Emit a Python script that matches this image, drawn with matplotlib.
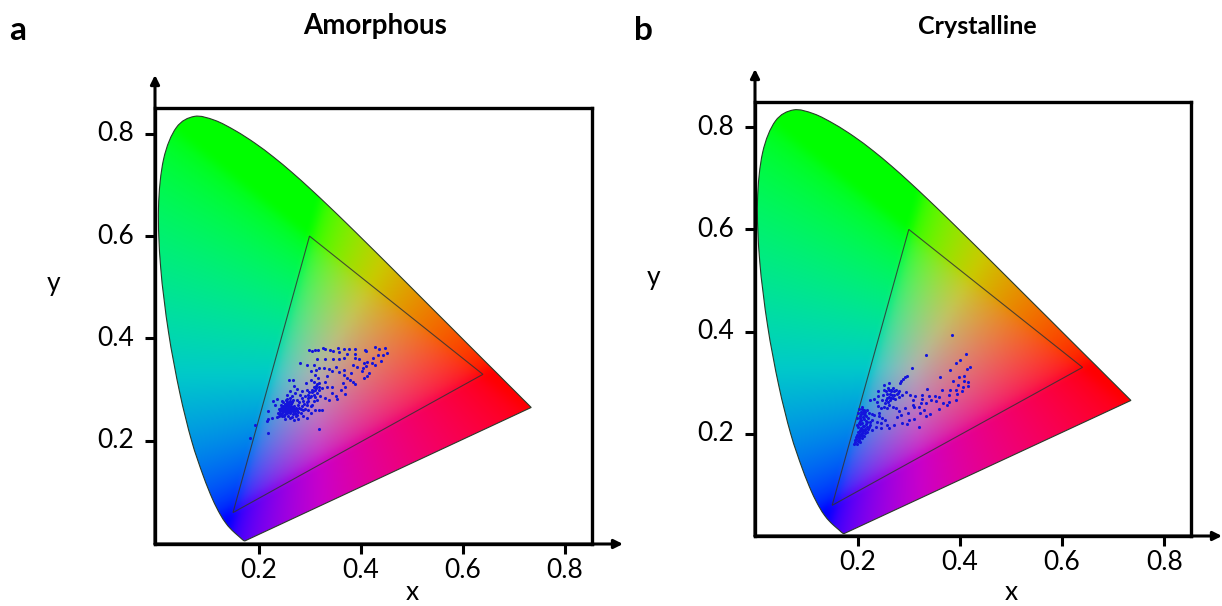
import numpy as np
import matplotlib
matplotlib.use("Agg")
import matplotlib.pyplot as plt
from matplotlib.patches import Polygon, PathPatch
from matplotlib.path import Path

plt.rcParams['font.family'] = ['Lato', 'DejaVu Sans']

# CIE 1931 spectral locus, 380-700 nm
locus_x = [.1741, .1740, .1738, .1736, .1733, .1730, .1726, .1721, .1714, .1703, .1689, .1669, .1644, .1611, .1566,
           .1510, .1440, .1355, .1241, .1096, .0913, .0687, .0454, .0235, .0082, .0039, .0139, .0389, .0743, .1142,
           .1547, .1929, .2296, .2658, .3016, .3373, .3731, .4087, .4441, .4788, .5125, .5448, .5752, .6029, .6270,
           .6482, .6658, .6801, .6915, .7006, .7079, .7140, .7190, .7230, .7260, .7283, .7300, .7347]
locus_y = [.0050, .0050, .0049, .0049, .0048, .0048, .0048, .0048, .0051, .0058, .0069, .0086, .0109, .0138, .0177,
           .0227, .0297, .0399, .0578, .0868, .1327, .2007, .2950, .4127, .5384, .6548, .7502, .8120, .8338, .8262,
           .8059, .7816, .7543, .7243, .6923, .6589, .6245, .5896, .5547, .5202, .4866, .4544, .4242, .3965, .3725,
           .3514, .3340, .3197, .3083, .2993, .2920, .2859, .2809, .2770, .2740, .2717, .2700, .2653]

gamut_x = [0.64, 0.30, 0.15]
gamut_y = [0.33, 0.60, 0.06]

tick_values = [0.2, 0.4, 0.6, 0.8]
tick_labels = ['0.2', '0.4', '0.6', '0.8']

amorphous = [
    (.299, .378), (.305, .375), (.311, .377), (.317, .378), (.326, .382), (.331, .380), (.340, .378), (.347, .375),
    (.356, .382), (.357, .373), (.367, .380), (.377, .380), (.374, .370), (.389, .380), (.390, .370), (.408, .378),
    (.410, .376), (.428, .383), (.436, .380), (.448, .382), (.451, .372), (.435, .368), (.444, .368), (.441, .357),
    (.425, .362), (.423, .352), (.429, .349), (.413, .355), (.406, .352), (.398, .359), (.389, .362), (.385, .349),
    (.393, .344), (.410, .346), (.405, .342), (.402, .336), (.416, .333), (.412, .326), (.406, .323), (.382, .333),
    (.385, .316), (.390, .312), (.379, .319), (.367, .329), (.367, .338), (.357, .334), (.366, .313), (.374, .323),
    (.369, .306), (.361, .300), (.369, .292), (.352, .288), (.354, .282), (.344, .293), (.344, .306), (.334, .306),
    (.331, .316), (.334, .326), (.344, .336), (.351, .344), (.338, .340), (.328, .342), (.318, .342), (.308, .349),
    (.295, .349), (.282, .352), (.315, .359), (.331, .360), (.347, .359), (.357, .360), (.367, .362), (.302, .336),
    (.313, .339), (.311, .329), (.317, .323), (.308, .316), (.302, .319), (.293, .314), (.318, .313), (.308, .306),
    (.318, .306), (.318, .300), (.324, .303), (.315, .293), (.321, .287), (.330, .284), (.338, .280), (.305, .300),
    (.295, .300), (.285, .297), (.275, .301), (.269, .308), (.259, .318), (.267, .318), (.262, .297), (.272, .293),
    (.282, .290), (.292, .287), (.298, .290), (.308, .290), (.315, .280), (.308, .277), (.298, .277), (.288, .277),
    (.275, .280), (.265, .287), (.256, .290), (.236, .282), (.228, .278), (.233, .270), (.246, .277), (.219, .259),
    (.318, .261), (.324, .261), (.318, .223), (.219, .215), (.193, .231), (.183, .205), (.216, .238), (.226, .244),
    (.218, .242), (.236, .246), (.246, .251), (.252, .242), (.262, .244), (.269, .241), (.278, .242), (.288, .248),
    (.295, .244), (.303, .254), (.311, .261), (.298, .261), (.288, .261), (.278, .257), (.271, .255), (.285, .268),
    (.295, .270), (.305, .270), (.278, .270), (.240, .262), (.243, .258), (.245, .265), (.247, .255), (.248, .262),
    (.249, .268), (.250, .259), (.251, .272), (.252, .264), (.253, .256), (.254, .268), (.255, .261), (.256, .275),
    (.257, .265), (.258, .271), (.258, .258), (.259, .263), (.260, .268), (.261, .254), (.261, .278), (.262, .262),
    (.263, .272), (.264, .258), (.265, .266), (.266, .275), (.267, .252), (.268, .262), (.270, .268), (.272, .258),
    (.274, .264), (.276, .250), (.251, .252), (.244, .270), (.256, .282), (.262, .283), (.268, .280), (.242, .253),
    (.249, .276), (.254, .279), (.259, .275), (.260, .259), (.253, .262), (.257, .269), (.263, .266), (.255, .254),
    (.247, .249), (.300, .285), (.305, .295), (.310, .300), (.312, .308), (.315, .312), (.307, .298), (.303, .288),
    (.298, .283), (.295, .275), (.290, .272), (.310, .285), (.302, .268), (.292, .262), (.313, .303), (.299, .296),
    (.285, .283), (.280, .276), (.283, .262), (.273, .248), (.266, .247), (.258, .249), (.250, .248), (.241, .249),
    (.238, .255), (.246, .260), (.252, .268), (.256, .258), (.249, .264), (.255, .272), (.261, .266), (.258, .261),
    (.264, .262), (.267, .258), (.270, .263), (.273, .253), (.276, .261), (.280, .265), (.283, .254), (.254, .265),
    (.252, .260), (.257, .262), (.260, .272), (.248, .258), (.246, .268),
]

crystalline = [
    (.385, .394), (.334, .355), (.307, .329), (.412, .356), (.401, .345), (.392, .339), (.380, .325), (.420, .331),
    (.413, .327), (.408, .314), (.398, .311), (.362, .311), (.386, .304), (.409, .303), (.415, .302), (.397, .296),
    (.416, .293), (.407, .291), (.392, .286), (.380, .286), (.365, .286), (.405, .283), (.395, .278), (.379, .276),
    (.335, .288), (.326, .276), (.339, .273), (.352, .273), (.359, .272), (.343, .266), (.354, .265), (.326, .268),
    (.313, .274), (.303, .276), (.295, .281), (.309, .266), (.323, .260), (.367, .261), (.375, .257), (.379, .263),
    (.392, .267), (.333, .260), (.308, .257), (.320, .252), (.310, .252), (.292, .250), (.330, .246), (.360, .248),
    (.341, .238), (.334, .235), (.322, .240), (.299, .240), (.310, .229), (.284, .237), (.300, .227), (.297, .220),
    (.320, .214), (.287, .221), (.271, .217), (.277, .232), (.261, .211), (.297, .314), (.292, .311), (.288, .307),
    (.285, .304), (.282, .299), (.252, .296), (.262, .300), (.269, .289), (.262, .286), (.258, .278), (.264, .278),
    (.271, .283), (.275, .286), (.280, .283), (.286, .276), (.280, .272), (.273, .268), (.266, .270), (.261, .272),
    (.256, .266), (.254, .260), (.262, .257), (.269, .253), (.275, .250), (.280, .244), (.258, .250), (.251, .252),
    (.245, .250), (.240, .255), (.240, .274), (.231, .268), (.225, .266), (.238, .263), (.248, .266), (.251, .286),
    (.240, .283), (.209, .252), (.203, .248), (.212, .247), (.218, .246), (.222, .240), (.201, .240), (.207, .239),
    (.215, .237), (.199, .231), (.205, .231), (.212, .229), (.220, .230), (.228, .227), (.202, .222), (.209, .221),
    (.216, .219), (.225, .217), (.201, .213), (.207, .212), (.214, .210), (.220, .209), (.228, .208), (.202, .204),
    (.209, .202), (.215, .201), (.199, .198), (.205, .196), (.212, .195), (.197, .189), (.203, .188), (.209, .191),
    (.192, .181), (.199, .180), (.205, .183), (.194, .187), (.202, .198), (.205, .220), (.212, .238), (.218, .224),
    (.222, .214), (.207, .227), (.215, .208), (.201, .195), (.209, .210), (.231, .237), (.241, .234), (.248, .231),
    (.254, .227), (.238, .224), (.246, .221), (.258, .217), (.235, .214), (.245, .211), (.228, .239), (.241, .240),
    (.211, .243), (.204, .235), (.213, .216), (.196, .194), (.200, .185), (.208, .205), (.218, .203), (.206, .243),
    (.265, .283), (.268, .276), (.272, .275), (.276, .278), (.278, .280), (.270, .271), (.263, .267), (.259, .262),
    (.257, .271), (.266, .286), (.260, .290), (.255, .283), (.249, .276), (.210, .233), (.216, .226), (.204, .226),
    (.198, .218), (.211, .215), (.219, .214), (.204, .208), (.211, .206), (.224, .223), (.200, .204), (.206, .200),
    (.195, .184), (.202, .192), (.208, .197), (.217, .234), (.214, .243), (.208, .248),
]

W, H = 1222, 606
fig = plt.figure(figsize=(W / 100, H / 100), dpi=100)


def locus_colors(gx, gy):
    # chromaticity to sRGB, white point stays grey, pure colours stay full
    X, Y, Z = gx, gy, 1 - gx - gy
    r = 3.2406 * X - 1.5372 * Y - 0.4986 * Z
    g = -0.9689 * X + 1.8758 * Y + 0.0415 * Z
    b = 0.0557 * X - 0.2040 * Y + 1.0570 * Z
    rgb = np.clip(np.dstack([r, g, b]), 0, None) ** 1.25
    norm = rgb.sum(axis=2, keepdims=True) ** 0.75 * rgb.max(axis=2, keepdims=True) ** 0.25
    rgb = (rgb / norm) ** (1 / 2.2)
    # soften the creases along the gamut lines
    kernel = np.ones(15) / 15
    for ch in range(3):
        for axis in (0, 1):
            rgb[:, :, ch] = np.apply_along_axis(np.convolve, axis, rgb[:, :, ch], kernel, mode='same')
    return np.clip(rgb, 0, 1)


def smooth_locus():
    # Bezier segments through the locus points, straight purple line back to the start
    pts = np.column_stack([locus_x, locus_y])
    verts = [pts[0]]
    codes = [Path.MOVETO]
    for i in range(len(pts) - 1):
        before = pts[max(i - 1, 0)]
        after = pts[min(i + 2, len(pts) - 1)]
        verts += [pts[i] + (pts[i + 1] - before) / 6, pts[i + 1] - (after - pts[i]) / 6, pts[i + 1]]
        codes += [Path.CURVE4] * 3
    verts.append(pts[0])
    codes.append(Path.CLOSEPOLY)
    return Path(verts, codes)


def draw_panel(box, origin, scale, points, ylabel_xy, xlabel_xy, xtick_y, ytick_x):
    left, top, right, bottom = box
    x0, y0 = origin
    sx, sy = scale
    ax = fig.add_axes([left / W, 1 - bottom / H, (right - left) / W, (bottom - top) / H])

    gx, gy = np.meshgrid(np.linspace(-0.05, 0.8, 560), np.linspace(-0.05, 0.9, 560))
    img = ax.imshow(locus_colors(gx, gy), extent=[-0.05, 0.8, -0.05, 0.9], origin='lower', aspect='auto',
                    interpolation='bilinear', zorder=1)
    ax.set_xlim((left - x0) / sx, (right - x0) / sx)
    ax.set_ylim((y0 - bottom) / sy, (y0 - top) / sy)
    outline = PathPatch(smooth_locus(), fc='none', ec='#2a3a2a', lw=0.8, zorder=2)
    ax.add_patch(outline)
    img.set_clip_path(outline)
    ax.add_patch(Polygon(np.column_stack([gamut_x, gamut_y]), closed=True, fc='none', ec='#333333', lw=0.8,
                         alpha=0.85, zorder=3))

    pts = np.array(points)
    ax.scatter(pts[:, 0], pts[:, 1], s=5, color='#1414dc', linewidths=0, zorder=4)

    ax.set_xticks(tick_values)
    ax.set_yticks(tick_values)
    ax.set_xticklabels([])
    ax.set_yticklabels([])
    ax.tick_params(length=7.5, width=2.2, color='black')
    for side in ax.spines.values():
        side.set_linewidth(2.4)

    for v, lab in zip(tick_values, tick_labels):
        fig.text((x0 + v * sx) / W, 1 - xtick_y / H, lab, fontsize=19, ha='center', va='center')
        fig.text(ytick_x / W, 1 - (y0 - v * sy) / H, lab, fontsize=19, ha='right', va='center')

    # axis arrows past the frame
    for tip in [((right + 31) / W, 1 - bottom / H), (left / W, 1 - (top - 33) / H)]:
        ax.annotate('', xy=tip, xytext=(left / W, 1 - bottom / H), xycoords='figure fraction',
                    textcoords='figure fraction', annotation_clip=False,
                    arrowprops=dict(arrowstyle='-|>', color='black', lw=2.2, mutation_scale=13,
                                    shrinkA=0, shrinkB=0))

    fig.text(ylabel_xy[0] / W, 1 - ylabel_xy[1] / H, 'y', fontsize=19, ha='center', va='center')
    fig.text(xlabel_xy[0] / W, 1 - xlabel_xy[1] / H, 'x', fontsize=19, ha='center', va='center')


draw_panel((155, 108, 592, 544), (156.5, 543.3), (510, 512), amorphous, (54, 284), (412, 592), 570, 134.5)
draw_panel((755, 102, 1191, 536), (755.5, 536), (511, 511), crystalline, (654, 277), (1011, 592), 562, 734)

fig.text(18 / W, 1 - 31 / H, 'a', fontsize=24, fontweight='bold', ha='center', va='center')
fig.text(643 / W, 1 - 31 / H, 'b', fontsize=24, fontweight='bold', ha='center', va='center')
fig.text(375 / W, 1 - 26 / H, 'Amorphous', fontsize=20, fontweight='bold', ha='center', va='center')
fig.text(977 / W, 1 - 26 / H, 'Crystalline', fontsize=18, fontweight='bold', ha='center', va='center')

fig.savefig('out.png', dpi=100)
